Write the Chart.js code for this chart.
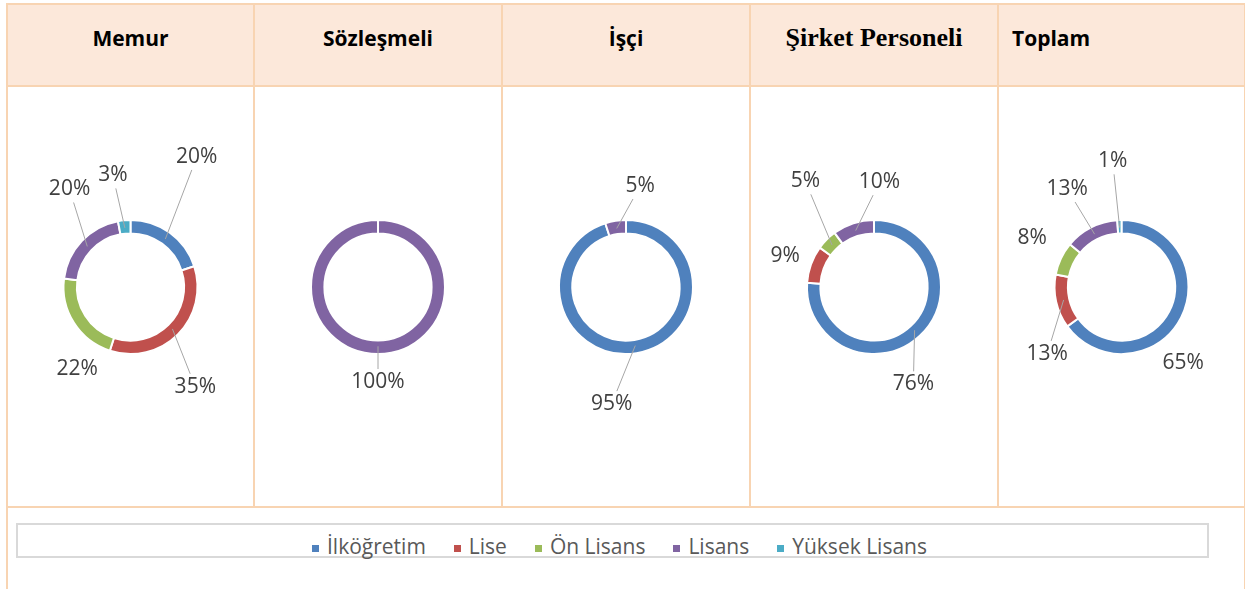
<!DOCTYPE html>
<html>
<head>
<meta charset="utf-8">
<script src="https://cdn.jsdelivr.net/npm/chart.js@4.4.1/dist/chart.umd.min.js"></script>
<style>
  body { margin: 0; background: #fff; width: 1245px; height: 589px; overflow: hidden; position: relative; }
  .frame { position: absolute; left: 6px; top: 3px; width: 1236px; height: 600px; border: 2px solid #F8D4B2; border-bottom: none; }
  .head { position: absolute; top: 5px; height: 80px; background: #FCE8DA; border-right: 2px solid #F8D4B2;
          font: bold 21px "Open Sans", sans-serif; color: #000; text-align: center; line-height: 66px; box-sizing: border-box; }
  .cell { position: absolute; top: 85px; height: 423px; border-top: 2px solid #F8D4B2; border-bottom: 2px solid #F8D4B2; border-right: 2px solid #F8D4B2; box-sizing: border-box; }
  .serif { font-family: "Liberation Serif", serif; font-size: 26px; }
  .left { text-align: left; padding-left: 13px; }
  #legendBox { position: absolute; left: 16px; top: 523px; width: 1193px; height: 35px; border: 2.5px solid #D9D9D9; box-sizing: border-box;
               display: flex; justify-content: center; align-items: flex-end; font: 21px "Open Sans", sans-serif; color: #595959; padding-left: 14px; }
  .item { display: flex; align-items: center; margin: 0 14px; line-height: 24px; position: relative; top: 2px; }
  .mark { width: 7px; height: 7px; margin-right: 8px; margin-top: 4px; }
</style>
</head>
<body>
<div class="frame"></div>
<div id="cells"></div>
<div id="legendBox"></div>
<script>
// Gruplar ve eğitim düzeyleri
var gruplar = ["Memur", "Sözleşmeli", "İşçi", "Şirket Personeli", "Toplam"];
var duzeyler = ["İlköğretim", "Lise", "Ön Lisans", "Lisans", "Yüksek Lisans"];
var renkler = ["#4F81BD", "#C0504D", "#9BBB59", "#8064A2", "#4BACC6"];

// yüzdeler (İlköğretim, Lise, Ön Lisans, Lisans, Yüksek Lisans)
var memur = [20, 35, 22, 20, 3];
var sozlesmeli = [0, 0, 0, 100, 0];
var isci = [95, 0, 0, 5, 0];
var sirket = [76, 9, 5, 10, 0];
var toplam = [65, 13, 8, 13, 1];

var seriler = [memur, sozlesmeli, isci, sirket, toplam];

// etiketlerin elle taşındığı yerler: merkezden açı (derece, saat yönü, tepeden) ve uzaklık
var etiketAci = [[27, 147, 213, 328, 351], [0, 0, 0, 180, 0], [187, 0, 0, 8, 0], [158, 289, 327, 3, 0], [141, 228, 299, 331, 356]];
var etiketUzak = [[146, 119, 98, 115, 113], [0, 0, 0, 95, 0], [118, 0, 0, 102, 0], [105, 94, 126, 105, 0], [98, 100, 102, 112, 126]];
var etiketCizgi = [[1, 1, 0, 1, 1], [0, 0, 0, 1, 0], [1, 0, 0, 1, 0], [1, 0, 1, 1, 0], [0, 1, 0, 1, 1]];

var kolonX = [7, 254, 502, 750, 998, 1245];

// dilim etiketleri, çizgili
var etiketPlugin = {
    id: 'etiketler',
    afterDatasetsDraw: function (chart) {
        var k = chart.options.grupNo;
        var ctx = chart.ctx;
        var meta = chart.getDatasetMeta(0);
        var veri = chart.data.datasets[0].data;
        ctx.save();
        ctx.font = '21px "Open Sans", sans-serif';
        ctx.textAlign = 'center';
        ctx.textBaseline = 'middle';
        meta.data.forEach(function (arc, i) {
            if (!veri[i]) return;
            var p = arc.getProps(['x', 'y', 'startAngle', 'endAngle', 'innerRadius', 'outerRadius'], true);
            var a = (p.startAngle + p.endAngle) / 2;
            var r0 = (p.innerRadius + p.outerRadius) / 2 - 1;
            var sx = p.x + Math.cos(a) * r0, sy = p.y + Math.sin(a) * r0;
            var b = (etiketAci[k][i] - 90) * Math.PI / 180;
            var lx = p.x + Math.cos(b) * etiketUzak[k][i];
            var ly = p.y + Math.sin(b) * etiketUzak[k][i];
            var metin = veri[i] + '%';
            if (etiketCizgi[k][i]) {
                var hw = ctx.measureText(metin).width / 2 + 2, hh = 13;
                var vx = sx - lx, vy = sy - ly;
                var t = Math.min(vx ? hw / Math.abs(vx) : 1e9, vy ? hh / Math.abs(vy) : 1e9);
                ctx.strokeStyle = '#A6A6A6';
                ctx.lineWidth = 1;
                ctx.beginPath();
                ctx.moveTo(sx, sy);
                ctx.lineTo(lx + vx * t, ly + vy * t);
                ctx.stroke();
            }
            ctx.fillStyle = '#404040';
            ctx.fillText(metin, lx, ly);
        });
        ctx.restore();
    }
};

var kutu = document.getElementById('cells');
gruplar.forEach(function (g, k) {
    var x0 = kolonX[k], w = kolonX[k + 1] - x0;
    var h = document.createElement('div');
    h.className = 'head' + (k == 3 ? ' serif' : '') + (k == 4 ? ' left' : '');
    h.style.left = (x0 + 1) + 'px';
    h.style.width = w + 'px';
    h.textContent = g;
    kutu.appendChild(h);

    var c = document.createElement('div');
    c.className = 'cell';
    c.style.left = (x0 + 1) + 'px';
    c.style.width = w + 'px';
    var cv = document.createElement('canvas');
    cv.width = w - 2;
    cv.height = 419;
    c.appendChild(cv);
    kutu.appendChild(c);

    new Chart(cv, {
        type: 'doughnut',
        data: {
            labels: duzeyler,
            datasets: [{
                data: seriler[k],
                backgroundColor: renkler,
                borderColor: '#FFFFFF',
                borderWidth: 2,
                hoverOffset: 0
            }]
        },
        options: {
            grupNo: k,
            responsive: false,
            animation: false,
            cutout: '80%',
            layout: { padding: { left: (w - 2) / 2 - 68, right: (w - 2) / 2 - 68, top: 132, bottom: 151 } },
            plugins: { legend: { display: false }, tooltip: { enabled: false } }
        },
        plugins: [etiketPlugin]
    });
});

// alt lejant
var lej = document.getElementById('legendBox');
duzeyler.forEach(function (d, i) {
    var it = document.createElement('div');
    it.className = 'item';
    it.innerHTML = '<span class="mark" style="background:' + renkler[i] + '"></span>' + d;
    lej.appendChild(it);
});
</script>
</body>
</html>
